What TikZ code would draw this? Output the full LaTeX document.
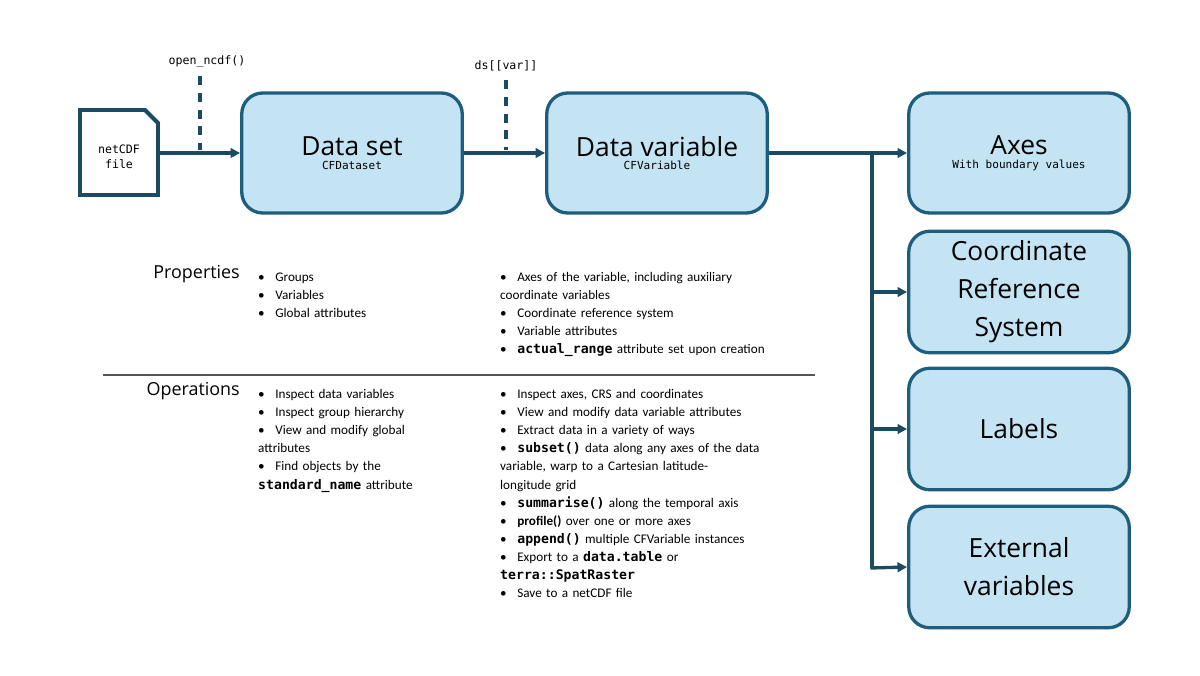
\documentclass[tikz,border=0pt]{standalone}
\usepackage{fontspec}
\setmainfont{Carlito}
\setsansfont{Open Sans}
\setmonofont{DejaVu Sans Mono}
\usepackage{xcolor}
\definecolor{boxfill}{HTML}{C4E4F4}
\definecolor{boxline}{HTML}{1D5D7E}
\definecolor{darkline}{HTML}{1B4A63}
\definecolor{sepgray}{HTML}{555555}
\usetikzlibrary{arrows.meta, positioning, calc}
\newcommand{\itm}[1]{\par\hangindent=0.57cm\hangafter=1\noindent\makebox[0.57cm][l]{\textbullet}#1}

\begin{document}
\begin{tikzpicture}[
  x=1cm/30, y=-1cm/30,
  bigbox/.style={draw=boxline, fill=boxfill, line width=1.1mm, rounded corners=0.7cm, minimum width=7.35cm, align=center},
  title/.style={font=\sffamily\fontsize{25}{36}\selectfont},
  flow/.style={-{Triangle[length=3.2mm,width=3.2mm]}, line width=1.1mm, darkline, line join=miter},
  call/.style={dash pattern=on 3mm off 2.6mm, line width=1.1mm, darkline},
  heading/.style={anchor=north east, font=\sffamily\fontsize{17}{20}\selectfont, inner sep=0pt},
  blist/.style={anchor=north west, inner sep=0pt, align=left, text width=#1, font=\fontsize{12.5}{17.2}\selectfont},
]
\useasboundingbox (0,0) rectangle (1200,675);

% netCDF file
\draw[line width=1.3mm, darkline, fill=white] (80,110) -- (145,110) -- (158,123) -- (158,195) -- (80,195) -- cycle;
\node[font=\ttfamily\fontsize{11}{14}\selectfont, align=center] (file) at (119,157) {netCDF\\file};
\coordinate (fileout) at (158,153);

% main boxes
\node[bigbox, minimum height=4cm] (dataset) at (352,153) {{\sffamily\fontsize{25}{30}\selectfont Data set}\\[1pt]{\ttfamily\fontsize{10.5}{12}\selectfont CFDataset}};
\node[bigbox, minimum height=4cm] (datavar) at (657,153) {{\sffamily\fontsize{25}{30}\selectfont Data variable}\\[1pt]{\ttfamily\fontsize{10.5}{12}\selectfont CFVariable}};

% right column
\node[bigbox, minimum height=4cm] (axes) at (1019,153) {{\sffamily\fontsize{25}{30}\selectfont Axes}\\[1pt]{\ttfamily\fontsize{10.5}{12}\selectfont With boundary values}};
\node[bigbox, minimum height=4.05cm, title] (crs) at (1019,292) {Coordinate\\Reference\\System};
\node[bigbox, minimum height=4.05cm, title] (labels) at (1019,429) {Labels};
\node[bigbox, minimum height=4.05cm, title] (extvar) at (1019,567) {External\\variables};

% calls
\node[font=\ttfamily\fontsize{11}{13}\selectfont] (opencall) at (207,61) {open\_ncdf()};
\node[font=\ttfamily\fontsize{11}{13}\selectfont] (varcall) at (506,66) {ds[[var]]};
\coordinate (openhit) at (200,150);
\coordinate (varhit) at (506,150);
\draw[call] (200,76) -- (openhit);
\draw[call] (506,80) -- (varhit);

% flow arrows
\draw[flow] (fileout) -- (dataset.west);
\draw[flow] (dataset.east) -- (datavar.west);
\coordinate (split) at (872,153);
\coordinate (splitend) at (872,568);
\draw[line width=1.1mm, darkline] (datavar.east) -- (split) -- (splitend);
\draw[flow] (split) -- (axes.west);
\draw[flow] (split |- crs.west) -- (crs.west);
\draw[flow] (split |- labels.west) -- (labels.west);
\draw[flow] ([xshift=-0.55mm]splitend) -- (extvar.west);

% properties
\node[heading] (props) at (240,265) {Properties};
\node[blist=7.5cm] (propds) at (258,263) {\itm{Groups}\itm{Variables}\itm{Global attributes}};
\node[blist=10cm] (propvar) at (500,263) {\itm{Axes of the variable, including auxiliary\\coordinate variables}\itm{Coordinate reference system}\itm{Variable attributes}\itm{\textbf{\texttt{actual\_range}} attribute set upon creation}};

\draw[sepgray, line width=0.4mm] (103,375) -- (815,375);

% operations
\node[heading] (ops) at (240,382) {Operations};
\node[blist=7.5cm] (opsds) at (258,380) {\itm{Inspect data variables}\itm{Inspect group hierarchy}\itm{View and modify global\\attributes}\itm{Find objects by the\\\textbf{\texttt{standard\_name}} attribute}};
\node[blist=10cm] (opsvar) at (500,380) {\itm{Inspect axes, CRS and coordinates}\itm{View and modify data variable attributes}\itm{Extract data in a variety of ways}\itm{\textbf{\texttt{subset()}} data along any axes of the data\\variable, warp to a Cartesian latitude-\\longitude grid}\itm{\textbf{\texttt{summarise()}} along the temporal axis}\itm{\textbf{profile()} over one or more axes}\itm{\textbf{\texttt{append()}} multiple CFVariable instances}\itm{Export to a \textbf{\texttt{data.table}} or\\\textbf{\texttt{terra::SpatRaster}}}\itm{Save to a netCDF file}};
\end{tikzpicture}
\end{document}
